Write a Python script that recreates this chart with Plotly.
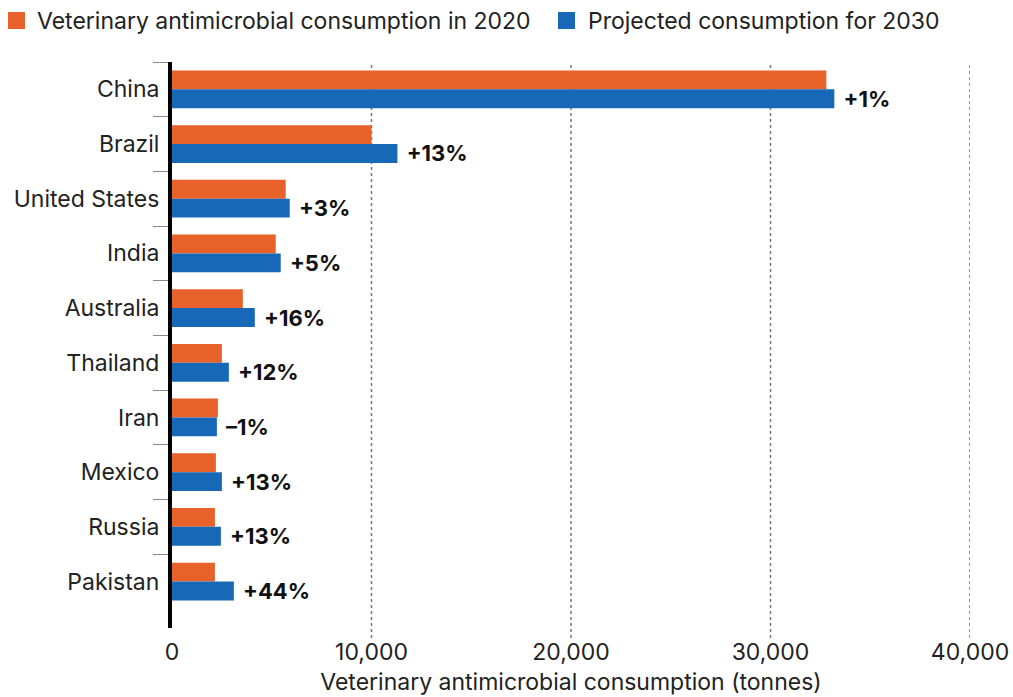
import plotly.graph_objects as go

countries = ["China", "Brazil", "United States", "India", "Australia",
             "Thailand", "Iran", "Mexico", "Russia", "Pakistan"]
consumption_2020 = [32800, 10000, 5700, 5200, 3550, 2500, 2300, 2200, 2150, 2150]
projected_2030 = [33200, 11300, 5900, 5450, 4150, 2850, 2250, 2500, 2450, 3100]
change_labels = ["+1%", "+13%", "+3%", "+5%", "+16%", "+12%", "–1%", "+13%", "+13%", "+44%"]
series_names = ["Veterinary antimicrobial consumption in 2020", "Projected consumption for 2030"]
x_ticks = [0, 10000, 20000, 30000, 40000]
x_tick_labels = ["0", "10,000", "20,000", "30,000", "40,000"]

ORANGE = "#E8602A"
BLUE = "#1769B8"
TEXT = "#222222"
FONT = "Inter"
FS = 23

W, H = 1013, 697
ML, MR, MT, MB = 172, 43, 62, 69
PW, PH = W - ML - MR, H - MT - MB


def px_x(px):
    return (px - ML) / PW


def px_y(py):
    return (H - MB - py) / PH


fig = go.Figure()
fig.add_trace(go.Bar(
    y=countries, x=consumption_2020, orientation="h",
    name=series_names[0], showlegend=False,
    marker=dict(color=ORANGE, line=dict(width=0)),
))
fig.add_trace(go.Bar(
    y=countries, x=projected_2030, orientation="h",
    name=series_names[1], showlegend=False,
    marker=dict(color=BLUE, line=dict(width=0)),
    text=["\u00a0<b>" + t + "</b>" for t in change_labels],
    textposition="outside", cliponaxis=False, constraintext="none",
    textfont=dict(family=FONT, size=22, color="#111111"),
))

# dotted gridlines extending slightly below the plot area
for v in x_ticks[1:]:
    fig.add_shape(type="line", xref="x", yref="paper", x0=v, x1=v, y0=px_y(638), y1=1,
                  line=dict(color="#777777", width=1.5, dash="dot"), layer="below")

# legend drawn at top
legend_items = [(8, 35, ORANGE, series_names[0]), (558, 586, BLUE, series_names[1])]
for sq_x, tx, col, name in legend_items:
    fig.add_shape(type="rect", xref="paper", yref="paper",
                  x0=px_x(sq_x), x1=px_x(sq_x + 17), y0=px_y(29), y1=px_y(12),
                  fillcolor=col, line=dict(width=0))
    fig.add_annotation(xref="paper", yref="paper", x=px_x(tx), y=px_y(21),
                       xanchor="left", yanchor="middle", text=name, showarrow=False,
                       font=dict(family=FONT, size=FS, color=TEXT))

fig.update_layout(
    width=W, height=H,
    margin=dict(l=ML, r=MR, t=MT, b=MB, autoexpand=False),
    paper_bgcolor="white", plot_bgcolor="white",
    barmode="group", bargap=0.31, bargroupgap=0.0,
    font=dict(family=FONT, size=FS, color=TEXT),
    showlegend=False,
    xaxis=dict(range=[0, 40000], tickvals=x_ticks, ticktext=x_tick_labels,
               showgrid=False, zeroline=False, showline=False,
               ticks="", ticklabelstandoff=8,
               tickfont=dict(family=FONT, size=FS, color=TEXT),
               title=dict(text="Veterinary antimicrobial consumption (tonnes)",
                          font=dict(family=FONT, size=FS, color=TEXT), standoff=8)),
    yaxis=dict(categoryorder="array", categoryarray=countries,
               range=[9.85, -0.5], showgrid=False, zeroline=False,
               showline=True, linecolor="black", linewidth=4,
               ticks="outside", tickson="boundaries", ticklen=15, tickcolor="#888888",
               tickwidth=1, ticklabelstandoff=4,
               tickfont=dict(family=FONT, size=FS, color=TEXT)),
)

fig.write_html("out.html", config={"displayModeBar": False},
               post_script="document.body.style.margin='0';")
